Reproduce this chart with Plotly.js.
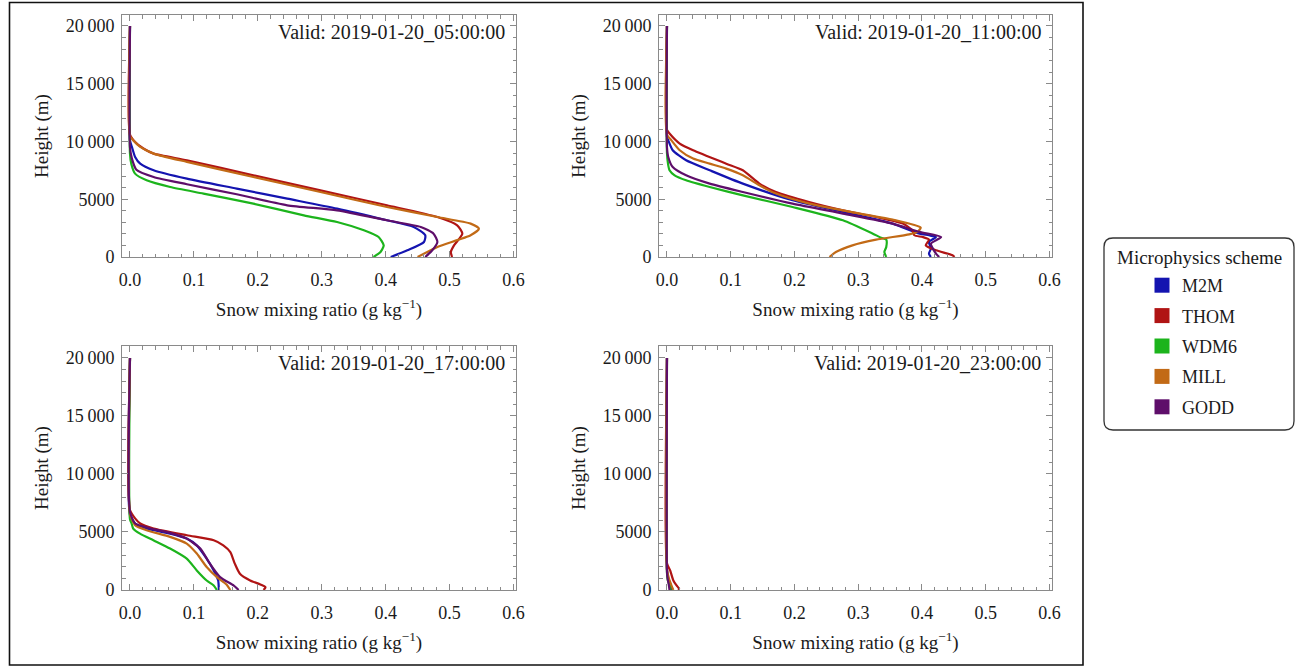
<!DOCTYPE html>
<html><head><meta charset="utf-8">
<script src="https://cdn.plot.ly/plotly-3.0.1.min.js"></script>
<style>html,body{margin:0;padding:0;background:#fff;}#chart{width:1298px;height:666px;}</style>
</head><body><div id="chart"></div>
<script>
// ---------- data ----------
const schemes = ['M2M', 'THOM', 'WDM6', 'MILL', 'GODD'];
const colors = ['#1414b0', '#b01414', '#1cb41c', '#c26a16', '#5e0e6a'];
const validTimes = ['Valid: 2019-01-20_05:00:00', 'Valid: 2019-01-20_11:00:00',
                    'Valid: 2019-01-20_17:00:00', 'Valid: 2019-01-20_23:00:00'];
const xTickVals = [0, 0.1, 0.2, 0.3, 0.4, 0.5, 0.6];
const xTickText = ['0.0', '0.1', '0.2', '0.3', '0.4', '0.5', '0.6'];
const yTickVals = [0, 5000, 10000, 15000, 20000];
const yTickText = ['0', '5000', '10\u2009000', '15\u2009000', '20\u2009000'];

// Panel 1: 05:00  (q = snow mixing ratio g/kg, h = height m)
const p1_M2M_q  = [0.408,0.434,0.460,0.462,0.444,0.402,0.324,0.246,0.167,0.089,0.037,0.016,0.008,0.003,0,0];
const p1_M2M_h  = [0,580,1300,1880,2600,3180,4190,5050,5920,6780,7510,8080,8660,9530,10100,20000];
const p1_THOM_q = [0.504,0.502,0.507,0.520,0.512,0.481,0.402,0.298,0.193,0.089,0.037,0.021,0.008,0,0];
const p1_THOM_h = [0,430,1010,2020,2740,3460,4480,5770,7070,8370,8950,9390,9960,10600,20000];
const p1_WDM6_q = [0.381,0.392,0.397,0.389,0.366,0.324,0.272,0.193,0.115,0.063,0.026,0.008,0.002,0,0];
const p1_WDM6_h = [0,430,1010,1730,2310,3030,3610,4620,5490,6060,6640,7220,8080,8950,20000];
const p1_MILL_q = [0.450,0.481,0.533,0.546,0.533,0.481,0.402,0.298,0.193,0.089,0.037,0.016,0.005,0,0];
const p1_MILL_h = [0,870,1880,2450,2890,3460,4330,5630,6930,8230,8950,9530,10100,10500,20000];
const p1_GODD_q = [0.462,0.473,0.481,0.475,0.455,0.402,0.324,0.246,0.167,0.089,0.037,0.010,0.003,0,0];
const p1_GODD_h = [0,580,1300,2020,2600,3180,4040,4475,5430,6300,6930,7560,8520,9500,20000];

// Panel 2: 11:00
const p2_M2M_q  = [0.414,0.411,0.414,0.411,0.422,0.411,0.396,0.354,0.276,0.197,0.119,0.067,0.030,0.009,0.002,0,0];
const p2_M2M_h  = [0,290,730,1300,1730,1880,2020,2890,3900,4910,6350,7510,8370,9240,10100,10400,20000];
const p2_THOM_q = [0.451,0.448,0.422,0.406,0.411,0.401,0.388,0.385,0.370,0.328,0.276,0.223,0.171,0.145,0.119,0.093,0.041,0.020,0.004,0,0];
const p2_THOM_h = [0,150,580,1010,1500,1730,1880,2310,2890,3460,4040,4760,5630,6350,7510,8080,9240,9820,10690,11000,20000];
const p2_WDM6_q = [0.344,0.341,0.344,0.344,0.336,0.323,0.276,0.197,0.119,0.067,0.030,0.012,0.004,0.0016,0,0];
const p2_WDM6_h = [0,430,870,1500,1670,2020,3180,4330,5340,6060,6640,7070,7510,8080,9000,20000];
const p2_MILL_q = [0.255,0.265,0.291,0.328,0.380,0.393,0.398,0.354,0.302,0.223,0.171,0.145,0.119,0.093,0.067,0.041,0.020,0.007,0,0];
const p2_MILL_h = [0,430,1010,1500,1960,2170,2550,3240,3760,4620,5490,6210,7070,7650,8080,8520,9240,10100,10600,20000];
const p2_GODD_q = [0.427,0.422,0.414,0.422,0.430,0.396,0.354,0.276,0.197,0.119,0.067,0.030,0.009,0.002,0,0];
const p2_GODD_h = [0,290,1160,1440,1730,2170,2890,3760,4620,5630,6350,7070,7790,8660,9500,20000];

// Panel 3: 17:00
const p3_M2M_q  = [0.139,0.138,0.131,0.120,0.1045,0.0888,0.0627,0.026,0.008,0,0];
const p3_M2M_h  = [0,820,1690,2700,3850,4430,4860,5300,5730,6450,20000];
const p3_THOM_q = [0.209,0.212,0.204,0.188,0.172,0.164,0.157,0.146,0.131,0.089,0.037,0.016,0.008,0,0];
const p3_THOM_h = [0,240,480,820,1400,2270,3270,3850,4290,4720,5300,5730,6170,6890,20000];
const p3_WDM6_q = [0.136,0.131,0.120,0.1045,0.0888,0.0627,0.0366,0.0157,0.005,0.0026,0,0];
const p3_WDM6_h = [0,390,820,1690,2700,3570,4290,4860,5300,5730,6100,20000];
const p3_MILL_q = [0.157,0.151,0.136,0.120,0.1045,0.0888,0.0627,0.026,0.008,0,0];
const p3_MILL_h = [0,480,1110,1980,3140,4000,4580,5150,5590,6600,20000];
const p3_GODD_q = [0.170,0.162,0.141,0.125,0.110,0.0888,0.0627,0.026,0.008,0,0];
const p3_GODD_h = [0,390,1110,2270,3570,4430,4920,5390,5730,6740,20000];

// Panel 4: 23:00
const p4_M2M_q  = [0.008,0.006,0.002,0,0];
const p4_M2M_h  = [0,400,1000,1800,20000];
const p4_THOM_q = [0.018,0.019,0.015,0.010,0.005,0,0];
const p4_THOM_h = [0,120,390,820,1690,2300,20000];
const p4_WDM6_q = [0.006,0.004,0.001,0,0];
const p4_WDM6_h = [0,400,900,1500,20000];
const p4_MILL_q = [0.010,0.007,0.003,0,0];
const p4_MILL_h = [0,400,1000,1800,20000];
const p4_GODD_q = [0.004,0.003,0.001,0,0];
const p4_GODD_h = [0,400,1000,1600,20000];

const panels = [
  {q:[p1_M2M_q,p1_THOM_q,p1_WDM6_q,p1_MILL_q,p1_GODD_q], h:[p1_M2M_h,p1_THOM_h,p1_WDM6_h,p1_MILL_h,p1_GODD_h]},
  {q:[p2_M2M_q,p2_THOM_q,p2_WDM6_q,p2_MILL_q,p2_GODD_q], h:[p2_M2M_h,p2_THOM_h,p2_WDM6_h,p2_MILL_h,p2_GODD_h]},
  {q:[p3_M2M_q,p3_THOM_q,p3_WDM6_q,p3_MILL_q,p3_GODD_q], h:[p3_M2M_h,p3_THOM_h,p3_WDM6_h,p3_MILL_h,p3_GODD_h]},
  {q:[p4_M2M_q,p4_THOM_q,p4_WDM6_q,p4_MILL_q,p4_GODD_q], h:[p4_M2M_h,p4_THOM_h,p4_WDM6_h,p4_MILL_h,p4_GODD_h]}
];

// ---------- layout ----------
const W = 1298, H = 666;
const FONT = 'Liberation Serif, Times New Roman, serif';
const fx = px => px / W;
const fy = py => 1 - py / H;

const xDomains = [[fx(122), fx(516)], [fx(659), fx(1052)], [fx(122), fx(516)], [fx(659), fx(1052)]];
const yDomains = [[fy(257), fy(15)], [fy(257), fy(15)], [fy(590), fy(346)], [fy(590), fy(346)]];
const yTops = [20950, 20950, 21030, 21030];

const traces = [];
panels.forEach((p, i) => {
  const ax = i === 0 ? '' : String(i + 1);
  schemes.forEach((s, k) => {
    traces.push({
      type: 'scatter', mode: 'lines', x: p.q[k], y: p.h[k],
      xaxis: 'x' + ax, yaxis: 'y' + ax, name: s, showlegend: false,
      line: {color: colors[k], width: 2.2, shape: 'spline', smoothing: 0.6},
      hoverinfo: 'skip'
    });
  });
});
// legend swatches
schemes.forEach((s, k) => {
  traces.push({type: 'scatter', mode: 'markers', x: [null], y: [null], xaxis: 'x', yaxis: 'y',
    name: s, legendgroup: s, showlegend: true,
    marker: {symbol: 'square', size: 15, color: colors[k], line: {width: 0}}});
});

const frameColor = '#8a8a8a';
const layout = {
  width: W, height: H, margin: {l: 0, r: 0, t: 0, b: 0},
  paper_bgcolor: '#fff', plot_bgcolor: '#fff',
  font: {family: FONT, size: 18, color: '#1a1a1a'},
  showlegend: true,
  legend: {x: fx(1142), xanchor: 'left', y: fy(267), yanchor: 'top',
    bgcolor: 'rgba(0,0,0,0)', borderwidth: 0, traceorder: 'grouped', tracegroupgap: 4,
    font: {family: FONT, size: 18, color: '#1a1a1a'}, itemwidth: 30},
  annotations: [],
  shapes: []
};

for (let i = 0; i < 4; i++) {
  const ax = i === 0 ? '' : String(i + 1);
  layout['xaxis' + ax] = {
    domain: xDomains[i], anchor: 'y' + ax, range: [-0.0125, 0.604],
    tickmode: 'array', tickvals: xTickVals, ticktext: xTickText,
    ticks: 'inside', ticklen: 6, tickwidth: 1, tickcolor: frameColor,
    minor: {tickmode: 'linear', tick0: 0, dtick: 0.02, ticks: 'inside', ticklen: 3.5, tickcolor: frameColor, showgrid: false},
    showline: true, linecolor: frameColor, linewidth: 1, mirror: 'allticks',
    showgrid: false, zeroline: false, ticklabelstandoff: 6,
    tickfont: {family: FONT, size: 18, color: '#1a1a1a'},
    title: {text: 'Snow mixing ratio (g kg<sup>\u22121</sup>)', font: {family: FONT, size: 19, color: '#1a1a1a'}, standoff: 14},
    fixedrange: true
  };
  layout['yaxis' + ax] = {
    domain: yDomains[i], anchor: 'x' + ax, range: [0, yTops[i]],
    tickmode: 'array', tickvals: yTickVals, ticktext: yTickText,
    ticks: 'inside', ticklen: 6, tickwidth: 1, tickcolor: frameColor,
    minor: {tickmode: 'linear', tick0: 0, dtick: 1000, ticks: 'inside', ticklen: 3.5, tickcolor: frameColor, showgrid: false},
    showline: true, linecolor: frameColor, linewidth: 1, mirror: 'allticks',
    showgrid: false, zeroline: false, ticklabelstandoff: 3,
    tickfont: {family: FONT, size: 18, color: '#1a1a1a'},
    title: {text: 'Height (m)', font: {family: FONT, size: 19, color: '#1a1a1a'}, standoff: 12},
    fixedrange: true
  };
  layout.annotations.push({
    xref: 'x' + ax + ' domain', yref: 'y' + ax + ' domain', x: 0.977, y: 0.985,
    xanchor: 'right', yanchor: 'top', showarrow: false, text: validTimes[i],
    font: {family: FONT, size: 20, color: '#1a1a1a'}
  });
}

// legend title
layout.annotations.push({xref: 'paper', yref: 'paper', x: fx(1199), y: fy(257), xanchor: 'center', yanchor: 'middle',
  showarrow: false, text: 'Microphysics scheme', font: {family: FONT, size: 19, color: '#1a1a1a'}});

// rounded legend frame
(function () {
  const x0 = 1104, x1 = 1294, y0 = 238, y1 = 430, r = 9;
  const P = (x, y) => fx(x).toFixed(5) + ',' + fy(y).toFixed(5);
  const path = 'M' + P(x0 + r, y0) + ' L' + P(x1 - r, y0) + ' Q' + P(x1, y0) + ' ' + P(x1, y0 + r) +
    ' L' + P(x1, y1 - r) + ' Q' + P(x1, y1) + ' ' + P(x1 - r, y1) +
    ' L' + P(x0 + r, y1) + ' Q' + P(x0, y1) + ' ' + P(x0, y1 - r) +
    ' L' + P(x0, y0 + r) + ' Q' + P(x0, y0) + ' ' + P(x0 + r, y0) + ' Z';
  layout.shapes.push({type: 'path', xref: 'paper', yref: 'paper', path: path, line: {color: '#333', width: 1.3}});
})();
// outer frame
layout.shapes.push({type: 'rect', xref: 'paper', yref: 'paper', x0: fx(9.5), x1: fx(1083), y0: fy(665), y1: fy(2.5),
  line: {color: '#111', width: 1.6}});

Plotly.newPlot('chart', traces, layout, {staticPlot: true, displayModeBar: false});
</script></body></html>
